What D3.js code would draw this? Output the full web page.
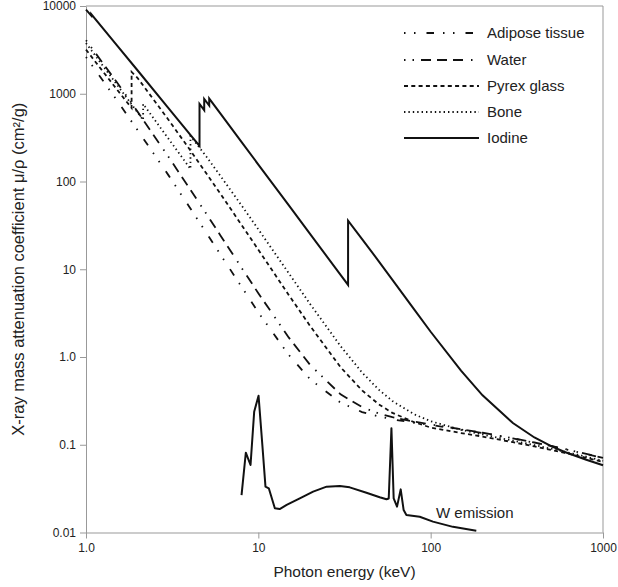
<!DOCTYPE html>
<html>
<head>
<meta charset="utf-8">
<script src="https://cdn.jsdelivr.net/npm/d3@7"></script>
<style>
  body { margin: 0; background: #fff; }
  svg { font-family: "Liberation Sans", Arial, sans-serif; }
  .axis path, .axis line { stroke: #999; }
  .axis text { fill: #222; font-size: 12px; }
</style>
</head>
<body>
<div id="chart"></div>
<script>
// photon energies (keV) and mass attenuation coefficients (cm2/g)
const adiposeE  = [1, 1.5, 2, 3, 4, 5, 6, 8, 10, 15, 20, 30, 40, 50, 60, 80, 100, 150, 200, 300, 400, 500, 600, 800, 1000];
const adiposeMu = [2630, 860, 380, 119, 50.5, 25.9, 14.9, 6.3, 3.22, 1.06, 0.556, 0.302, 0.236, 0.21, 0.195, 0.178, 0.168, 0.1495, 0.1362, 0.118, 0.1056, 0.0964, 0.0891, 0.0783, 0.0704];

const waterE  = [1, 1.5, 2, 3, 4, 5, 6, 8, 10, 15, 20, 30, 40, 50, 60, 80, 100, 150, 200, 300, 400, 500, 600, 800, 1000];
const waterMu = [4078, 1376, 617.3, 192.9, 82.78, 42.58, 24.64, 10.37, 5.329, 1.673, 0.8096, 0.3756, 0.2683, 0.2269, 0.2059, 0.1837, 0.1707, 0.1505, 0.137, 0.1186, 0.1061, 0.09687, 0.08956, 0.07865, 0.07072];

const pyrexE  = [1, 1.5, 1.839, 1.839, 2, 3, 4, 5, 6, 8, 10, 15, 20, 30, 40, 50, 60, 80, 100, 150, 200, 300, 400, 500, 600, 800, 1000];
const pyrexMu = [3181, 1140, 689, 1776, 1498, 510, 231, 123, 73.4, 31.9, 16.7, 5.1, 2.25, 0.765, 0.416, 0.289, 0.231, 0.181, 0.157, 0.136, 0.124, 0.107, 0.0956, 0.0873, 0.0807, 0.0709, 0.0637];

const boneE  = [1, 1.5, 2, 2.1455, 2.1455, 3, 4.038, 4.038, 5, 6, 8, 10, 15, 20, 30, 40, 50, 60, 80, 100, 150, 200, 300, 400, 500, 600, 800, 1000];
const boneMu = [3781, 1295, 606, 503, 765, 310, 139, 330, 191.7, 117.1, 53.23, 28.51, 9.032, 4.001, 1.331, 0.6655, 0.4242, 0.3148, 0.2229, 0.1855, 0.148, 0.1309, 0.1113, 0.09902, 0.09017, 0.08332, 0.07308, 0.06566];

const iodineE  = [1, 1.072, 1.072, 1.5, 2, 3, 4, 4.557, 4.557, 4.852, 4.852, 5.188, 5.188, 6, 8, 10, 15, 20, 30, 33.17, 33.17, 40, 50, 60, 80, 100, 150, 200, 300, 400, 500, 600, 800, 1000];
const iodineMu = [9096, 7780, 8100, 3630, 1829, 692, 347, 254, 764, 649, 871, 732, 880, 600, 281, 156, 53.7, 25.1, 8.64, 6.62, 35.8, 22.1, 12.32, 7.58, 3.51, 1.94, 0.698, 0.366, 0.177, 0.121, 0.0963, 0.0827, 0.0675, 0.0585];

// tungsten tube emission spectrum (arbitrary units)
const wE = [7.99, 8.46, 9.01, 9.46, 10.03, 10.57, 11.0, 11.5, 12.47, 13.3, 14.6, 17.4, 20.8, 24.9, 29.7, 33.9, 42.4, 50.6, 55.4, 57.1, 59.2, 61.0, 63.8, 67.0, 69.7, 72.3, 86.4, 103.1, 134.7, 184];
const wI = [0.0267, 0.0811, 0.0588, 0.238, 0.362, 0.095, 0.0333, 0.0319, 0.0189, 0.0185, 0.0206, 0.0245, 0.0292, 0.0333, 0.0339, 0.0327, 0.0284, 0.0252, 0.0239, 0.0244, 0.154, 0.0245, 0.0197, 0.031, 0.018, 0.0158, 0.0151, 0.0133, 0.0116, 0.0105];

const xTicks = [1, 10, 100, 1000];
const xTickLabels = ["1.0", "10", "100", "1000"];
const yTicks = [0.01, 0.1, 1, 10, 100, 1000, 10000];
const yTickLabels = ["0.01", "0.1", "1.0", "10", "100", "1000", "10000"];

const seriesNames = ["Adipose tissue", "Water", "Pyrex glass", "Bone", "Iodine"];
const seriesE = [adiposeE, waterE, pyrexE, boneE, iodineE];
const seriesMu = [adiposeMu, waterMu, pyrexMu, boneMu, iodineMu];
const dashes = ["1.5,8.5,1.5,11,7.5,9", "1.5,7,1.5,7,10,6,10,6,10,8", "4,3.3", "1.4,3", null];

const W = 618, H = 587;
const margin = { top: 6, right: 15, bottom: 54.5, left: 86 };
const width = W - margin.left - margin.right,
      height = H - margin.top - margin.bottom;

const svg = d3.select("#chart").append("svg")
    .attr("width", W)
    .attr("height", H);

const g = svg.append("g")
    .attr("transform", `translate(${margin.left},${margin.top})`);

const x = d3.scaleLog().domain([1, 1000]).range([0, width]);
const y = d3.scaleLog().domain([0.01, 10000]).range([height, 0]);

// frame (top and right)
g.append("line").attr("x1", 0).attr("x2", width).attr("y1", 0).attr("y2", 0).attr("stroke", "#999");
g.append("line").attr("x1", width).attr("x2", width).attr("y1", 0).attr("y2", height).attr("stroke", "#999");

g.append("g")
    .attr("class", "x axis")
    .attr("transform", `translate(0,${height})`)
    .call(d3.axisBottom(x).tickValues(xTicks).tickSize(6).tickPadding(5)
        .tickSizeOuter(0).tickFormat((d, i) => xTickLabels[i]));

g.append("g")
    .attr("class", "y axis")
    .call(d3.axisLeft(y).tickValues(yTicks).tickSize(6).tickPadding(4)
        .tickSizeOuter(0).tickFormat((d, i) => yTickLabels[i]));

const line = d3.line()
    .x(d => x(d[0]))
    .y(d => y(d[1]));

seriesNames.forEach((name, i) => {
    const pts = seriesE[i].map((e, j) => [e, seriesMu[i][j]]);
    g.append("path")
        .datum(pts)
        .attr("fill", "none")
        .attr("stroke", "#111")
        .attr("stroke-width", i === 4 ? 2 : 1.8)
        .attr("stroke-dasharray", dashes[i])
        .attr("d", line);
});

// W emission spectrum
g.append("path")
    .datum(wE.map((e, j) => [e, wI[j]]))
    .attr("fill", "none")
    .attr("stroke", "#111")
    .attr("stroke-width", 2)
    .attr("stroke-linejoin", "round")
    .attr("d", line);

svg.append("text")
    .attr("x", 436)
    .attr("y", 513)
    .attr("dy", "0.35em")
    .attr("font-size", 15)
    .attr("fill", "#222")
    .text("W emission");

// legend
const legendY = [33, 60, 86, 112, 138];
const legend = svg.append("g");
seriesNames.forEach((name, i) => {
    legend.append("line")
        .attr("x1", 404).attr("x2", 479)
        .attr("y1", legendY[i]).attr("y2", legendY[i])
        .attr("stroke", "#111")
        .attr("stroke-width", i === 4 ? 2 : 1.8)
        .attr("stroke-dasharray", dashes[i]);
    legend.append("text")
        .attr("x", 487)
        .attr("y", legendY[i])
        .attr("dy", "0.35em")
        .attr("font-size", 15)
        .attr("fill", "#222")
        .text(name);
});

// axis titles
svg.append("text")
    .attr("x", margin.left + width / 2)
    .attr("y", 577)
    .attr("text-anchor", "middle")
    .attr("font-size", 15.5)
    .attr("fill", "#222")
    .text("Photon energy (keV)");

svg.append("text")
    .attr("transform", `translate(24,${margin.top + height / 2}) rotate(-90)`)
    .attr("text-anchor", "middle")
    .attr("font-size", 16.5)
    .attr("fill", "#222")
    .text("X-ray mass attenuation coefficient μ/ρ (cm²/g)");
</script>
</body>
</html>
